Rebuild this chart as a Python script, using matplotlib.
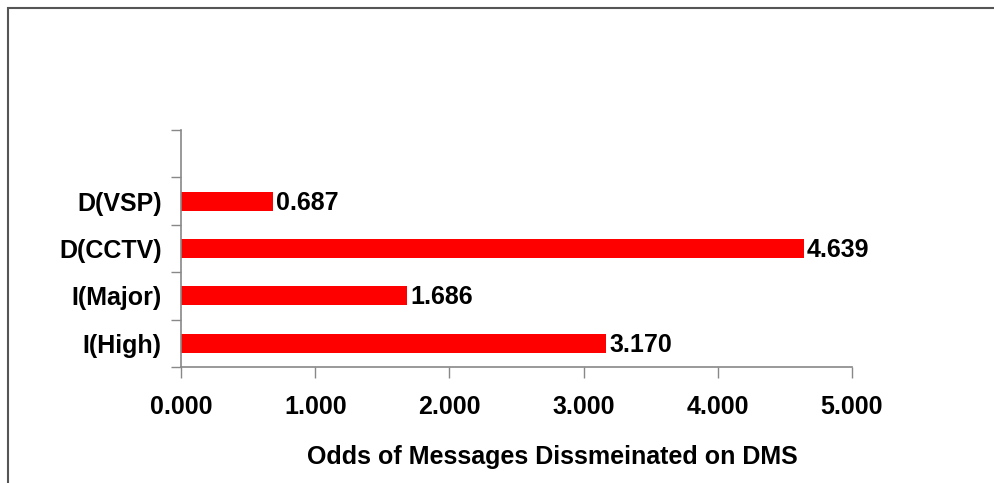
import matplotlib.pyplot as plt
from matplotlib.patches import Rectangle

categories = ['I(High)', 'I(Major)', 'D(CCTV)', 'D(VSP)']
odds = [3.170, 1.686, 4.639, 0.687]
x_ticks = [0, 1, 2, 3, 4, 5]
x_label = 'Odds of Messages Dissmeinated on DMS'

plt.rcParams['font.family'] = ['Liberation Sans', 'DejaVu Sans']
plt.rcParams['font.weight'] = 'bold'
FS = 18

W, H = 995, 483
fig = plt.figure(figsize=(W / 100, H / 100), dpi=100)
ax = fig.add_axes([181 / W, 1 - 367 / H, (852 - 181) / W, (367 - 130) / H])

pos = list(range(len(categories)))
ax.barh(pos, odds, height=0.4, color='#ff0000')
for p, v in zip(pos, odds):
    ax.text(v + 0.02, p - 0.03, f'{v:.3f}', va='center', ha='left',
            fontsize=FS, fontweight='bold')

# one empty slot above the last category
ax.set_ylim(-0.5, len(categories) + 0.5)
ax.set_xlim(0, 5)

ax.set_yticks([p - 0.5 for p in range(len(categories) + 2)])
ax.set_yticklabels([])
ax.set_yticks(pos, minor=True)
ax.set_yticklabels(categories, minor=True, fontsize=FS, fontweight='bold')
ax.tick_params(axis='y', which='major', length=7, color='#888888', width=1)
ax.tick_params(axis='y', which='minor', length=0, pad=14)

ax.set_xticks(x_ticks)
ax.set_xticklabels([f'{t:.3f}' for t in x_ticks], fontsize=FS, fontweight='bold')
ax.tick_params(axis='x', length=8, color='#888888', width=1, pad=12)
ax.set_xlabel(x_label, fontsize=FS, fontweight='bold', labelpad=19)
ax.xaxis.set_label_coords(0.553, -0.33)

for side in ['top', 'right']:
    ax.spines[side].set_visible(False)
for side in ['left', 'bottom']:
    ax.spines[side].set_color('#888888')
    ax.spines[side].set_linewidth(1.2)

# outer border of the chart area
fig.patches.append(Rectangle((8 / W, -0.1), 1.2, 1 - 8 / H + 0.1,
                             transform=fig.transFigure, fill=False,
                             edgecolor='#555555', linewidth=1.5))

fig.savefig('out.png', dpi=100)
